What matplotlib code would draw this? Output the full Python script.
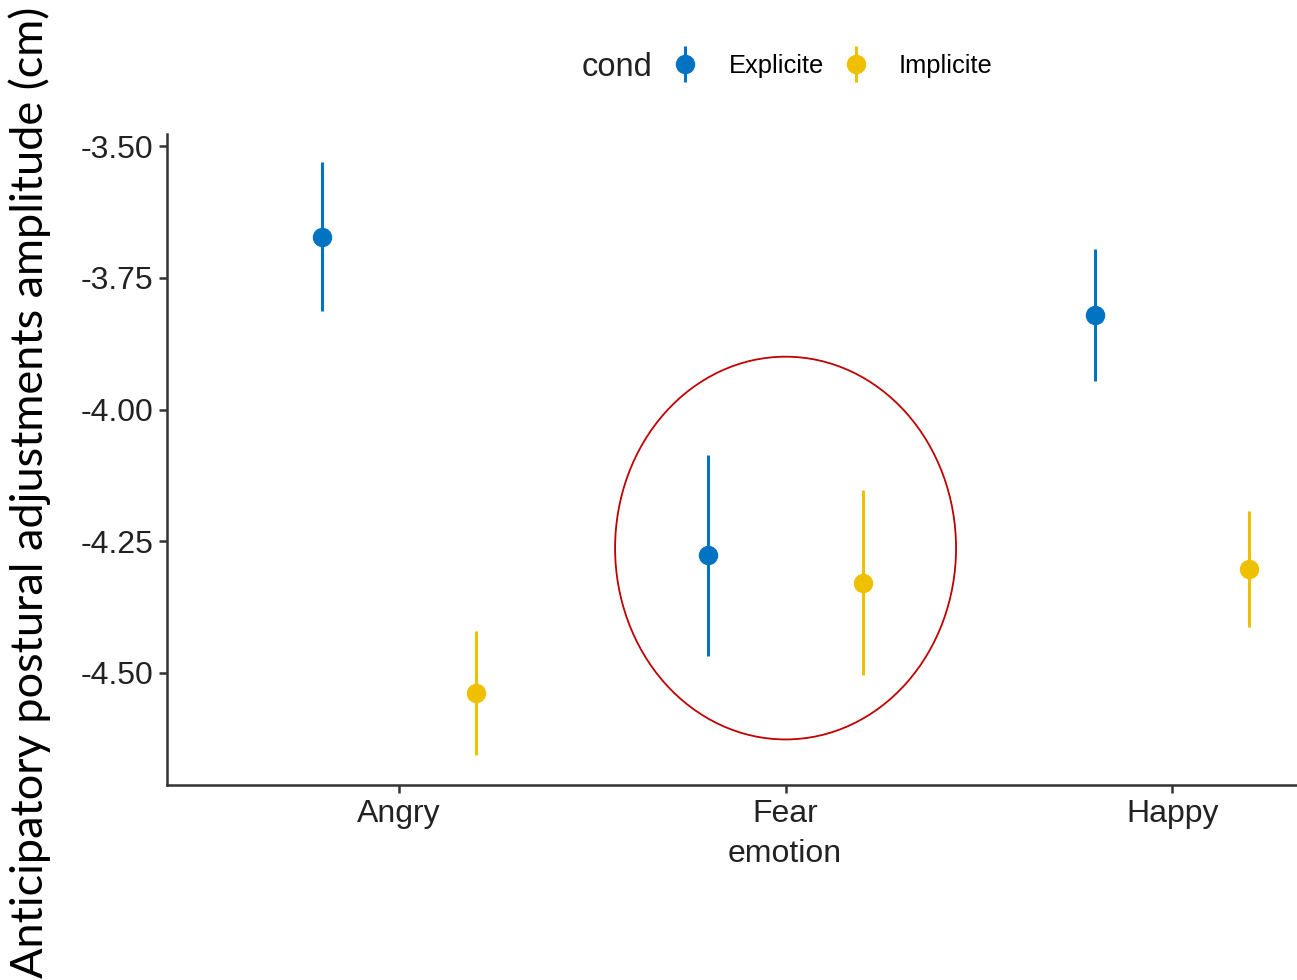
import matplotlib
matplotlib.use("Agg")
import matplotlib.pyplot as plt
from matplotlib.patches import Ellipse
from matplotlib.container import ErrorbarContainer
from matplotlib.legend_handler import HandlerErrorbar
import numpy as np

categories = ["Angry", "Fear", "Happy"]
conds = ["Explicite", "Implicite"]
explicite_mean = [-3.673, -4.276, -3.821]
explicite_lo = [-3.813, -4.468, -3.946]
explicite_hi = [-3.530, -4.086, -3.695]
implicite_mean = [-4.538, -4.329, -4.303]
implicite_lo = [-4.656, -4.504, -4.413]
implicite_hi = [-4.420, -4.153, -4.193]
yticks = [-3.50, -3.75, -4.00, -4.25, -4.50]

colors = {"Explicite": "#0073C2", "Implicite": "#EFC000"}

fig = plt.figure(figsize=(12.97, 9.80), dpi=100)
ax = fig.add_axes([0.1288, 0.199, 1 - 0.1288, 0.863 - 0.199])

x = np.arange(len(categories))
dodge = 0.2
handles = []
for cond, mean, lo, hi, off in [
    ("Explicite", explicite_mean, explicite_lo, explicite_hi, -dodge),
    ("Implicite", implicite_mean, implicite_lo, implicite_hi, dodge),
]:
    mean = np.array(mean); lo = np.array(lo); hi = np.array(hi)
    h = ax.errorbar(x + off, mean, yerr=[mean - lo, hi - mean], fmt="o",
                    color=colors[cond], ecolor=colors[cond], markersize=13,
                    elinewidth=2.2, capsize=0, label=cond, zorder=3)
    handles.append(h)

ax.set_xlim(-0.600, 2.323)
ax.set_ylim(-4.713, -3.477)
ax.set_xticks(x)
ax.set_xticklabels(categories, fontsize=23, family="Liberation Sans")
ax.set_yticks(yticks)
ax.set_yticklabels([f"{v:.2f}" for v in yticks], fontsize=23, family="Liberation Sans")
ax.tick_params(axis="both", direction="out", length=6, width=1.8, color="#333333",
               labelcolor="#222222", pad=4)
for s in ["top", "right"]:
    ax.spines[s].set_visible(False)
for s in ["left", "bottom"]:
    ax.spines[s].set_linewidth(1.8)
    ax.spines[s].set_color("#333333")

ax.set_xlabel("emotion", fontsize=23, family="Liberation Sans", color="#222222")
ax.xaxis.set_label_coords((785 - 167) / (1297 - 167), -0.083)

# red ellipse highlighting the Fear group
ell = Ellipse((1.0, -4.263), width=0.882, height=0.727, fill=False,
              edgecolor="#C00000", linewidth=1.3, zorder=2)
ax.add_patch(ell)

# y label
fig.text(0.023, 0.498, "Anticipatory postural adjustments amplitude (cm)",
         rotation=90, ha="center", va="center", fontsize=32.5, family="Lato",
         color="black")

# legend
fig.text(582 / 1297, 1 - 67 / 980, "cond", fontsize=23.5, family="Liberation Sans",
         color="#222222", ha="left", va="center")
leg = fig.legend(handles=handles, labels=conds, loc="center left",
                 bbox_to_anchor=(662 / 1297, 1 - 66 / 980), ncol=2, frameon=False,
                 prop={"family": "Liberation Sans", "size": 18.4}, handlelength=1.0,
                 columnspacing=0.75, handletextpad=1.2, borderaxespad=0,
                 handler_map={ErrorbarContainer: HandlerErrorbar(yerr_size=0.72)})

fig.savefig("out.png", dpi=100)
